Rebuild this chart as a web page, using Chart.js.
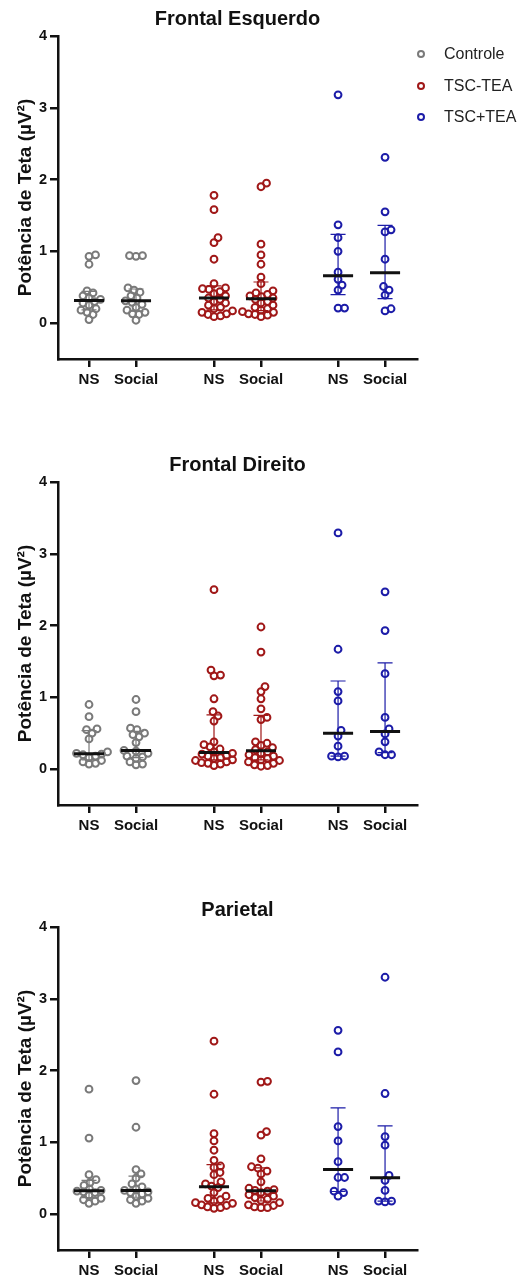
<!DOCTYPE html>
<html>
<head>
<meta charset="utf-8">
<script src="https://cdn.jsdelivr.net/npm/chart.js@4.4.1/dist/chart.umd.min.js"></script>
<style>
  html, body { margin: 0; padding: 0; background: #fff; width: 523px; height: 1284px; overflow: hidden; }
  .painel { position: absolute; left: 0; }
  .item { position: absolute; left: 417px; height: 20px; display: flex; align-items: center;
          font-family: 'Liberation Sans', Arial, sans-serif; font-size: 16px; color: #222; }
  .bola { width: 4px; height: 4px; border: 2px solid; border-radius: 50%; margin-right: 19px; }
</style>
</head>
<body>
<canvas id="painel0" class="painel" width="523" height="400" style="top:0px"></canvas>
<canvas id="painel1" class="painel" width="523" height="400" style="top:446px"></canvas>
<canvas id="painel2" class="painel" width="523" height="400" style="top:891px"></canvas>
<div id="legenda"></div>
<script>
const titulos = ['Frontal Esquerdo', 'Frontal Direito', 'Parietal'];
const grupos = ['Controle', 'TSC-TEA', 'TSC+TEA'];
const condicoes = ['NS', 'Social'];
const yTicks = [0, 1, 2, 3, 4];

// Frontal Esquerdo
const esqControleNS = [0.95, 0.93, 0.82, 0.45, 0.42, 0.38, 0.35, 0.33, 0.30, 0.28, 0.25, 0.20, 0.18, 0.15, 0.12, 0.05];
const esqControleSocial = [0.94, 0.94, 0.93, 0.49, 0.46, 0.43, 0.38, 0.35, 0.31, 0.29, 0.26, 0.22, 0.18, 0.15, 0.13, 0.12, 0.04];
const esqSemTeaNS = [1.78, 1.58, 1.19, 1.12, 0.89, 0.55, 0.49, 0.48, 0.47, 0.44, 0.41, 0.38, 0.35, 0.33, 0.30, 0.28, 0.25, 0.22, 0.20, 0.17, 0.15, 0.13, 0.12, 0.10, 0.09];
const esqSemTeaSocial = [1.95, 1.90, 1.10, 0.95, 0.82, 0.64, 0.55, 0.45, 0.42, 0.40, 0.38, 0.37, 0.35, 0.33, 0.30, 0.28, 0.25, 0.22, 0.20, 0.18, 0.16, 0.15, 0.13, 0.12, 0.11, 0.09];
const esqComTeaNS = [3.18, 1.37, 1.19, 1.00, 0.71, 0.61, 0.53, 0.46, 0.21, 0.21];
const esqComTeaSocial = [2.31, 1.55, 1.30, 1.27, 0.89, 0.51, 0.46, 0.39, 0.20, 0.17];

// Frontal Direito
const dirControleNS = [0.90, 0.73, 0.56, 0.55, 0.50, 0.42, 0.24, 0.22, 0.21, 0.20, 0.18, 0.16, 0.12, 0.10, 0.08, 0.07];
const dirControleSocial = [0.97, 0.80, 0.57, 0.55, 0.50, 0.48, 0.45, 0.37, 0.26, 0.25, 0.22, 0.18, 0.17, 0.15, 0.10, 0.07, 0.06];
const dirSemTeaNS = [2.50, 1.38, 1.31, 1.30, 0.98, 0.80, 0.74, 0.67, 0.38, 0.34, 0.31, 0.28, 0.24, 0.22, 0.21, 0.19, 0.18, 0.16, 0.15, 0.13, 0.12, 0.10, 0.09, 0.08, 0.07, 0.05];
const dirSemTeaSocial = [1.98, 1.63, 1.15, 1.08, 0.98, 0.84, 0.72, 0.69, 0.38, 0.36, 0.33, 0.30, 0.27, 0.24, 0.22, 0.20, 0.18, 0.16, 0.15, 0.13, 0.12, 0.10, 0.08, 0.06, 0.05, 0.04];
const dirComTeaNS = [3.29, 1.67, 1.08, 0.95, 0.54, 0.46, 0.32, 0.18, 0.18, 0.17];
const dirComTeaSocial = [2.47, 1.93, 1.33, 0.72, 0.56, 0.49, 0.38, 0.24, 0.20, 0.20];

// Parietal
const parControleNS = [1.74, 1.06, 0.55, 0.48, 0.44, 0.40, 0.35, 0.33, 0.32, 0.31, 0.30, 0.26, 0.22, 0.20, 0.18, 0.15];
const parControleSocial = [1.86, 1.21, 0.62, 0.56, 0.50, 0.42, 0.38, 0.35, 0.33, 0.31, 0.30, 0.28, 0.25, 0.22, 0.20, 0.18, 0.15];
const parSemTeaNS = [2.41, 1.67, 1.12, 1.02, 0.89, 0.75, 0.67, 0.65, 0.58, 0.55, 0.45, 0.42, 0.39, 0.37, 0.30, 0.25, 0.22, 0.20, 0.18, 0.16, 0.15, 0.13, 0.12, 0.10, 0.09, 0.08];
const parSemTeaSocial = [1.85, 1.84, 1.15, 1.10, 0.77, 0.66, 0.64, 0.60, 0.56, 0.45, 0.36, 0.34, 0.33, 0.32, 0.30, 0.27, 0.25, 0.23, 0.21, 0.19, 0.16, 0.13, 0.12, 0.10, 0.09, 0.09];
const parComTeaNS = [2.56, 2.26, 1.22, 1.02, 0.73, 0.51, 0.51, 0.32, 0.30, 0.25];
const parComTeaSocial = [3.30, 1.68, 1.08, 0.96, 0.54, 0.47, 0.33, 0.18, 0.18, 0.17];

const paineis = [
  [esqControleNS, esqControleSocial, esqSemTeaNS, esqSemTeaSocial, esqComTeaNS, esqComTeaSocial],
  [dirControleNS, dirControleSocial, dirSemTeaNS, dirSemTeaSocial, dirComTeaNS, dirComTeaSocial],
  [parControleNS, parControleSocial, parSemTeaNS, parSemTeaSocial, parComTeaNS, parComTeaSocial]
];

// aparência
const cores = ['#7a7a7a', '#a01818', '#1c1ca8'];
const fonte = "'Liberation Sans', Arial, sans-serif";
const posicoes = [0.66, 1.66, 3.32, 4.32, 5.96, 6.96];
const xMax = 7.64;
const meiaMediana = 0.32;
const meiaBarra = 0.16;
const distMin = 6.3;

// quartil no estilo do Prism: posição p*(n+1), interpolada
function quartil(valores, p) {
  const s = [...valores].sort((a, b) => a - b);
  const pos = p * (s.length + 1) - 1;
  if (pos <= 0) return s[0];
  if (pos >= s.length - 1) return s[s.length - 1];
  const i = Math.floor(pos);
  return s[i] + (pos - i) * (s[i + 1] - s[i]);
}

// espalha os pontos na horizontal para não se sobreporem (beeswarm)
function enxame(chart, valores, centro) {
  const sx = chart.scales.x, sy = chart.scales.y;
  const unidade = sx.getPixelForValue(1) - sx.getPixelForValue(0);
  const ordem = valores.map((v, i) => i).sort((a, b) => valores[a] - valores[b]);
  const colocados = [];
  const desloc = new Array(valores.length).fill(0);
  for (const i of ordem) {
    const py = sy.getPixelForValue(valores[i]);
    let dx = 0;
    for (let passo = 0; passo < 400; passo++) {
      const cand = (passo % 2 ? 1 : -1) * Math.ceil(passo / 2) * 0.5;
      if (colocados.every(c => (c.x - cand) ** 2 + (c.y - py) ** 2 >= distMin * distMin)) { dx = cand; break; }
    }
    colocados.push({ x: dx, y: py });
    desloc[i] = dx;
  }
  return valores.map((v, i) => ({ x: centro + desloc[i] / unidade, y: v }));
}

function criarPainel(idx) {
  const series = paineis[idx];
  const medianas = [];
  series.forEach((v, k) => {
    const m = quartil(v, 0.5);
    medianas.push({ x: posicoes[k] - meiaMediana, y: m }, { x: posicoes[k] + meiaMediana, y: m }, { x: posicoes[k], y: null });
  });

  const barras = grupos.map((g, gi) => {
    const pts = [];
    [gi * 2, gi * 2 + 1].forEach(k => {
      const p = posicoes[k], q1 = quartil(series[k], 0.25), q3 = quartil(series[k], 0.75);
      pts.push({ x: p, y: q1 }, { x: p, y: q3 }, { x: p, y: null },
               { x: p - meiaBarra, y: q3 }, { x: p + meiaBarra, y: q3 }, { x: p, y: null },
               { x: p - meiaBarra, y: q1 }, { x: p + meiaBarra, y: q1 }, { x: p, y: null });
    });
    return {
      label: g + ' IQR', data: pts, showLine: true, spanGaps: false,
      borderColor: cores[gi], borderWidth: 1.2, pointRadius: 0
    };
  });

  const pontos = series.map((v, k) => ({
    label: grupos[Math.floor(k / 2)] + ' ' + condicoes[k % 2],
    data: v.map(y => ({ x: posicoes[k], y: y })),
    showLine: false,
    pointStyle: 'circle',
    pointRadius: 3.4,
    pointBorderWidth: 2,
    pointBackgroundColor: 'rgba(0,0,0,0)',
    pointBorderColor: cores[Math.floor(k / 2)]
  }));

  const datasets = [
    { label: 'Mediana', data: medianas, showLine: true, spanGaps: false, borderColor: '#111', borderWidth: 3, pointRadius: 0 },
    ...pontos,
    ...barras
  ];

  const eixo = {
    grid: { drawOnChartArea: false, drawTicks: true, tickLength: 8, color: '#111', lineWidth: 2.5 },
    border: { display: true, color: '#111', width: 2.5 }
  };

  const chart = new Chart(document.getElementById('painel' + idx), {
    type: 'scatter',
    data: { datasets },
    options: {
      responsive: false,
      animation: false,
      devicePixelRatio: 1,
      layout: { padding: { left: 0, right: 106, top: 0, bottom: 0 } },
      plugins: {
        legend: { display: false },
        tooltip: { enabled: false },
        title: {
          display: true, text: titulos[idx], fullSize: false, color: '#111',
          font: { family: fonte, size: 20, weight: 'bold' },
          padding: { top: 7, bottom: 5 }
        }
      },
      scales: {
        x: {
          ...eixo,
          type: 'linear', min: 0, max: xMax,
          afterBuildTicks: ax => { ax.ticks = posicoes.map(v => ({ value: v })); },
          afterFit: ax => { ax.height = 41; },
          ticks: {
            autoSkip: false, maxRotation: 0, padding: 4, color: '#111',
            font: { family: fonte, size: 15, weight: 'bold' },
            callback: (v, i) => condicoes[i % 2]
          }
        },
        y: {
          ...eixo,
          type: 'linear', min: -0.5, max: 4,
          afterBuildTicks: ax => { ax.ticks = yTicks.map(v => ({ value: v })); },
          afterFit: ax => { ax.width = 58; },
          ticks: { padding: 3, color: '#111', font: { family: fonte, size: 14.5, weight: 'bold' } },
          title: {
            display: true, text: 'Potência de Teta (µV²)', color: '#111',
            font: { family: fonte, size: 19, weight: 'bold' },
            padding: { top: 14, bottom: 0 }
          }
        }
      }
    }
  });

  // segunda passada: com as escalas prontas, distribui os pontos
  pontos.forEach((ds, k) => {
    chart.data.datasets[1 + k].data = enxame(chart, series[k], posicoes[k]);
  });
  chart.update('none');
}

[0, 1, 2].forEach(criarPainel);

// legenda do primeiro painel
const legenda = document.getElementById('legenda');
const legendaY = [54, 86, 117];
grupos.forEach((g, i) => {
  const item = document.createElement('div');
  item.className = 'item';
  item.style.top = (legendaY[i] - 10) + 'px';
  const bola = document.createElement('span');
  bola.className = 'bola';
  bola.style.borderColor = cores[i];
  item.appendChild(bola);
  item.appendChild(document.createTextNode(g));
  legenda.appendChild(item);
});
</script>
</body>
</html>
